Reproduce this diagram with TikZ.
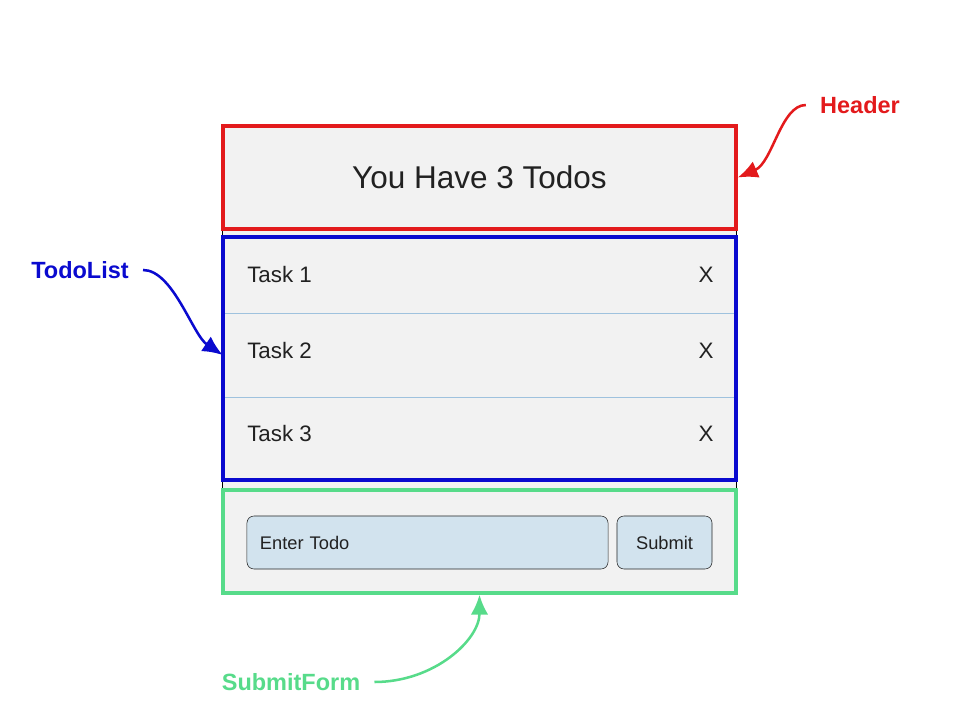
\documentclass[tikz,border=0pt]{standalone}
\usepackage{fontspec}
\setmainfont{Liberation Sans}
\usetikzlibrary{positioning,arrows.meta}
\definecolor{HeaderRed}{HTML}{E31A1C}
\definecolor{ListBlue}{HTML}{0A0ACF}
\definecolor{FormGreen}{HTML}{57DB8A}
\definecolor{PanelGray}{HTML}{F2F2F2}
\definecolor{FieldBlue}{HTML}{D2E3EE}
\definecolor{RowLine}{HTML}{9FC2DE}

\begin{document}
\begin{tikzpicture}[x=0.025cm, y=-0.025cm, >={Latex[length=5mm,width=4.4mm]},
                    panel/.style={draw, line width=2.4pt, minimum width=12.825cm,
                                  minimum height=2.575cm, inner sep=0pt},
                    row/.style={minimum width=12.825cm, inner sep=0pt},
                    task/.style={font=\fontsize{15.9}{19}\selectfont, text=black!87, inner sep=0pt},
                    field/.style={draw=black!85, rounded corners=5pt, fill=FieldBlue,
                                  minimum height=1.325cm, inner ysep=0pt, inner xsep=0.325cm,
                                  text=black!87, font=\fontsize{13}{16}\selectfont},
                    tag/.style={font=\bfseries\fontsize{16.7}{20}\selectfont, inner xsep=10pt},
                    pointer/.style={->, line width=1.8pt}]
  \useasboundingbox (0,0) rectangle (960,720);
  % app frame
  \node[draw=black, fill=PanelGray, line width=0.5pt, minimum width=12.85cm,
        minimum height=11.675cm, inner sep=0pt] (app) at (479,359.5) {};
  % header
  \node[panel, draw=HeaderRed, text=black!87,
        font=\fontsize{22.4}{26}\selectfont] (header) at (479.5,177.5) {\raisebox{-1pt}{You Have 3 Todos}};
  % todo list
  \node[row, minimum height=1.9cm] (row1) at (479.5,275) {};
  \node[row, minimum height=2.1cm] (row2) at (479.5,355) {};
  \node[row, minimum height=2.075cm] (row3) at (479.5,438.5) {};
  \draw[RowLine, line width=0.8pt] (row1.south west) -- (row1.south east);
  \draw[RowLine, line width=0.8pt] (row2.south west) -- (row2.south east);
  \node[panel, draw=ListBlue, minimum height=6.075cm] (list) at (479.5,358.5) {};
  \node[task, anchor=west] (task1) at (247,275) {Task 1};
  \node[task, anchor=west] (task2) at (247,351) {Task 2};
  \node[task, anchor=west] (task3) at (247,434) {Task 3};
  \node[task] (del1) at (706,275) {X};
  \node[task] (del2) at (706,351) {X};
  \node[task] (del3) at (706,434) {X};
  % submit form
  \node[panel, draw=FormGreen] (form) at (479.5,541.5) {};
  \node[field, minimum width=9.025cm, text width=8.375cm, align=left] (entry) at (427.5,542.5) {Enter Todo};
  \node[field, minimum width=2.375cm] (submit) at (664.5,542.5) {Submit};
  % labels
  \node[tag, text=HeaderRed] (headertag) at (860,105) {Header};
  \node[tag, text=ListBlue] (listtag) at (80,270) {TodoList};
  \node[tag, text=FormGreen] (formtag) at (291,682) {SubmitForm};
  \draw[pointer, HeaderRed] (headertag.west) .. controls +(-25,0) and +(35,-15) .. (header.east);
  \draw[pointer, ListBlue] (listtag.east) .. controls +(30,0) and +(-30,-20) .. (row2.west);
  \draw[pointer, FormGreen] (formtag.east) .. controls +(60,0) and +(0,45) .. (form.south);
\end{tikzpicture}
\end{document}
